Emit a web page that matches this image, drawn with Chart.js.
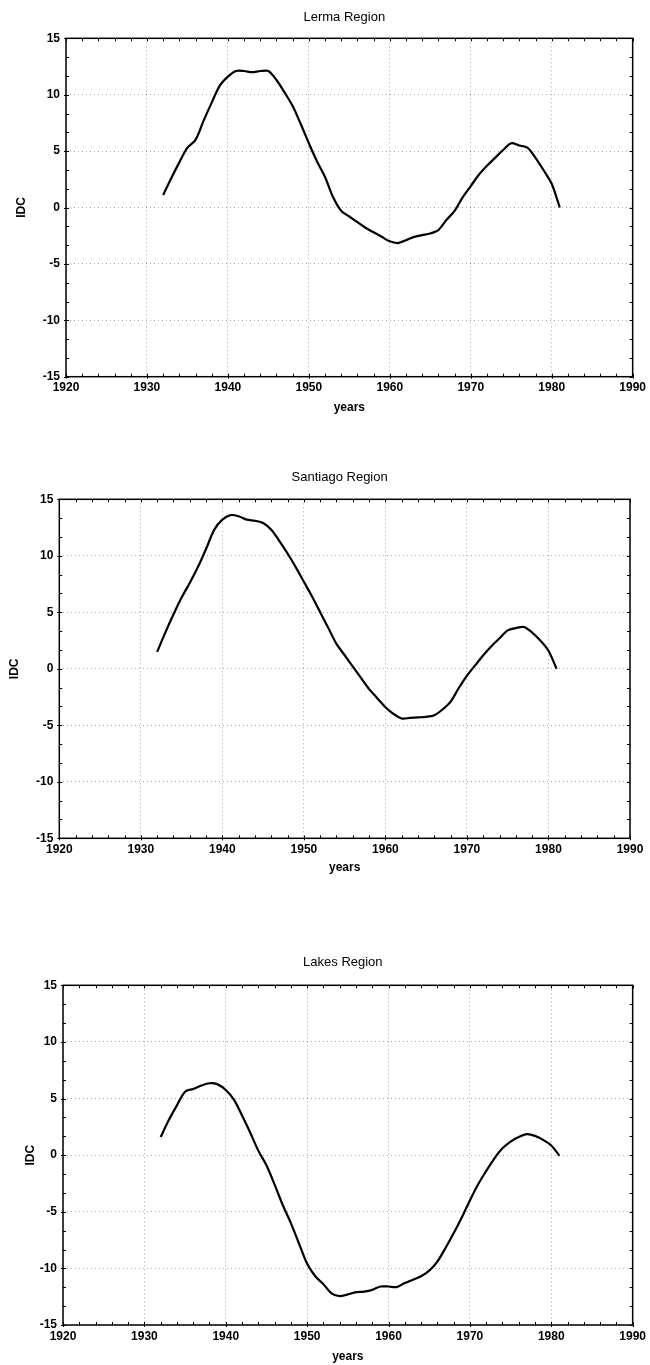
<!DOCTYPE html>
<html><head><meta charset="utf-8">
<script src="https://cdn.jsdelivr.net/npm/chart.js@4.4.1/dist/chart.umd.min.js"></script>
<style>
html,body{margin:0;padding:0;background:#fff;}
body{width:650px;height:1365px;position:relative;overflow:hidden;}
canvas{position:absolute;left:0;display:block;}
</style></head><body>
<canvas id="c1" width="650" height="420" style="top:0px"></canvas>
<canvas id="c2" width="650" height="424" style="top:455px"></canvas>
<canvas id="c3" width="650" height="425" style="top:940px"></canvas>
<script>
// ---- data ----
const years = [1932,1933,1934,1935,1936,1937,1938,1939,1940,1941,1942,1943,1944,1945,1946,1947,1948,1949,1950,1951,1952,1953,1954,1955,1956,1957,1958,1959,1960,1961,1962,1963,1964,1965,1966,1967,1968,1969,1970,1971,1972,1973,1974,1975,1976,1977,1978,1979,1980,1981];
const lermaIDC = [1.1,2.6,4.0,5.3,6.0,7.7,9.3,10.8,11.6,12.1,12.1,12.0,12.1,12.1,11.3,10.2,9.0,7.4,5.7,4.1,2.7,0.9,-0.3,-0.8,-1.3,-1.8,-2.2,-2.6,-3.0,-3.15,-2.9,-2.6,-2.45,-2.3,-2.0,-1.1,-0.3,0.9,1.9,2.9,3.7,4.4,5.1,5.7,5.5,5.3,4.4,3.3,2.1,0.0];
const santiagoIDC = [1.5,3.2,4.8,6.3,7.6,9.0,10.6,12.3,13.2,13.6,13.5,13.2,13.1,12.9,12.3,11.3,10.2,9.0,7.7,6.4,5.0,3.6,2.2,1.2,0.2,-0.8,-1.8,-2.6,-3.4,-4.0,-4.4,-4.35,-4.3,-4.25,-4.1,-3.6,-2.9,-1.7,-0.6,0.3,1.2,2.0,2.7,3.4,3.6,3.7,3.2,2.5,1.6,0.0];
const lakesIDC = [1.6,3.1,4.4,5.6,5.85,6.15,6.35,6.25,5.75,4.9,3.5,2.0,0.4,-0.9,-2.6,-4.4,-6.0,-7.8,-9.6,-10.7,-11.4,-12.2,-12.45,-12.3,-12.1,-12.05,-11.9,-11.6,-11.6,-11.65,-11.3,-11.0,-10.7,-10.2,-9.4,-8.2,-6.9,-5.5,-4.0,-2.6,-1.4,-0.3,0.6,1.2,1.6,1.85,1.7,1.35,0.85,-0.05];
const chartTitles = ['Lerma Region','Santiago Region','Lakes Region'];
const xTickValues = [1920,1930,1940,1950,1960,1970,1980,1990];
const yTickValues = [-15,-10,-5,0,5,10,15];
const xAxisTitle = 'years';
const yAxisTitle = 'IDC';

Chart.defaults.font.family = "'Liberation Sans', Arial, Helvetica, sans-serif";
Chart.defaults.color = '#000';

const framePlugin = {
  id: 'frame',
  afterDraw(chart) {
    const {ctx, chartArea, scales} = chart;
    const {left, right, top, bottom} = chartArea;
    const x = scales.x, y = scales.y;
    ctx.save();
    ctx.strokeStyle = '#000';
    ctx.lineWidth = 1.5;
    ctx.strokeRect(left, top, right - left, bottom - top);
    ctx.lineWidth = 1;
    ctx.beginPath();
    for (let v = x.min; v <= x.max + 1e-9; v += 2) {
      const px = Math.round(x.getPixelForValue(v)) + 0.5;
      ctx.moveTo(px, bottom); ctx.lineTo(px, bottom - 3);
      ctx.moveTo(px, top); ctx.lineTo(px, top + 3);
    }
    for (let v = y.min; v <= y.max + 1e-9; v += 5 / 3) {
      const py = Math.round(y.getPixelForValue(v)) + 0.5;
      ctx.moveTo(left, py); ctx.lineTo(left + 3, py);
      ctx.moveTo(right, py); ctx.lineTo(right - 3, py);
    }
    yTickValues.forEach(v => { const py = Math.round(y.getPixelForValue(v)) + 0.5; ctx.moveTo(left - 2, py); ctx.lineTo(left, py); });
    xTickValues.forEach(v => { const px = Math.round(x.getPixelForValue(v)) + 0.5; ctx.moveTo(px, bottom); ctx.lineTo(px, bottom + 2); });
    ctx.stroke();
    ctx.restore();
  }
};

const titleShiftPlugin = {
  id: 'titleShift',
  afterLayout(chart, args, opts) {
    if (chart.titleBlock && opts && opts.shift) {
      chart.titleBlock.left -= 2 * opts.shift;
    }
  }
};

function makeChart(id, title, values, cfg) {
  return new Chart(document.getElementById(id), {
    type: 'line',
    data: {
      datasets: [{
        data: years.map((yr, i) => ({x: yr, y: values[i]})),
        borderColor: '#000',
        borderWidth: 2.2,
        pointRadius: 0,
        tension: 0.3,
        fill: false
      }]
    },
    options: {
      responsive: false,
      animation: false,
      devicePixelRatio: 1,
      layout: {padding: {left: 0, right: cfg.padRight, top: 0, bottom: 0}},
      plugins: {
        legend: {display: false},
        tooltip: {enabled: false},
        title: {
          display: true, text: title, fullSize: false, color: '#000',
          font: {size: 13, weight: 'normal'},
          padding: {top: cfg.tTop, bottom: cfg.tBot}
        },
        titleShift: {shift: 5}
      },
      scales: {
        x: {
          type: 'linear', min: 1920, max: 1990,
          afterBuildTicks: s => { s.ticks = xTickValues.map(v => ({value: v})); },
          afterFit: s => { s.height = cfg.xH; },
          ticks: {color: '#000', font: {size: 12, weight: 'bold'}, padding: 4, maxRotation: 0, autoSkip: false, callback: v => String(v)},
          grid: {color: 'rgba(0,0,0,0.35)', drawTicks: false, lineWidth: 1},
          border: {display: false, dash: [1, 3]},
          title: {display: true, text: xAxisTitle, color: '#000', font: {size: 12, weight: 'bold'}, padding: {top: 0, bottom: cfg.yearsPad}}
        },
        y: {
          type: 'linear', min: -15, max: 15,
          afterBuildTicks: s => { s.ticks = yTickValues.map(v => ({value: v})); },
          afterFit: s => { s.width = cfg.yW; },
          ticks: {color: '#000', font: {size: 12, weight: 'bold'}, padding: 6, autoSkip: false, callback: v => String(v)},
          grid: {color: 'rgba(0,0,0,0.35)', drawTicks: false, lineWidth: 1},
          border: {display: false, dash: [1, 3]},
          title: {display: true, text: yAxisTitle, color: '#000', font: {size: 12, weight: 'bold'}, padding: {top: cfg.idcPad, bottom: 0}}
        }
      }
    },
    plugins: [framePlugin, titleShiftPlugin]
  });
}

makeChart('c1', chartTitles[0], lermaIDC, {padRight: 14, tTop: 9.9, tBot: 12.8, xH: 43.3, yearsPad: 4.8, yW: 66, idcPad: 14.8});
makeChart('c2', chartTitles[1], santiagoIDC, {padRight: 20, tTop: 14.2, tBot: 14.5, xH: 40.7, yearsPad: 3.8, yW: 59.3, idcPad: 7.3});
makeChart('c3', chartTitles[2], lakesIDC, {padRight: 16, tTop: 14.9, tBot: 14.8, xH: 40, yearsPad: 0.8, yW: 63, idcPad: 23.8});
</script>
</body></html>
